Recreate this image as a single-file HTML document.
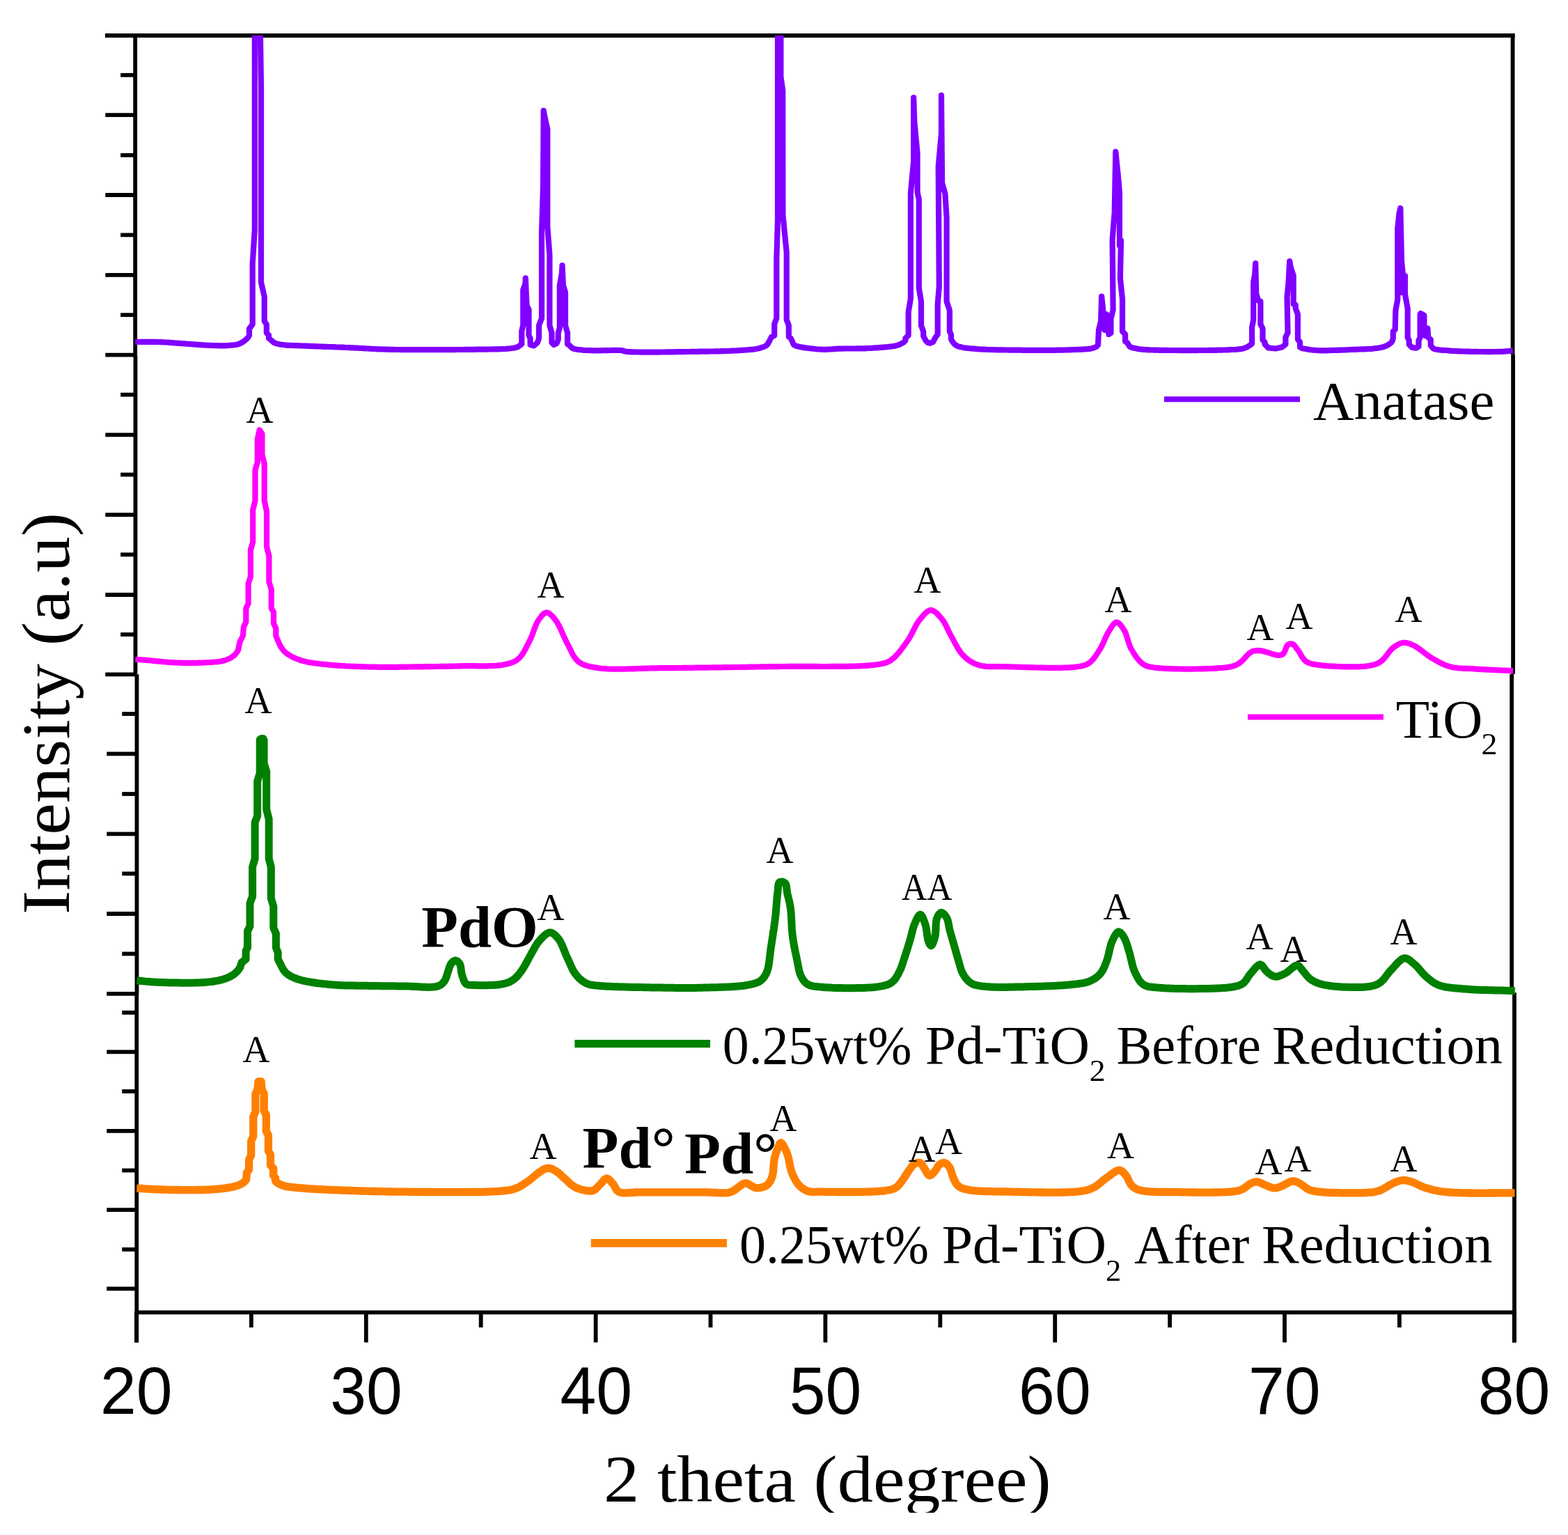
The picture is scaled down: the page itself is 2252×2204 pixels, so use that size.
<!DOCTYPE html>
<html><head><meta charset="utf-8"><title>XRD patterns</title>
<style>
html,body{margin:0;padding:0;background:#fff;}
body{width:2252px;height:2204px;overflow:hidden;}
svg{display:block;}
.s{font-family:"Liberation Serif","DejaVu Serif",serif;fill:#000;}
.a{font-family:"Liberation Serif","DejaVu Serif",serif;font-size:54px;fill:#000;}
.b{font-family:"Liberation Serif","DejaVu Serif",serif;font-weight:bold;font-size:85px;fill:#000;}
.t{font-family:"Liberation Sans","DejaVu Sans",sans-serif;font-size:96px;fill:#000;}
</style></head><body>
<svg width="2252" height="2204" viewBox="0 0 2252 2204">
<defs>
<clipPath id="c1"><rect x="150" y="51" width="2050" height="470"/></clipPath>
<clipPath id="cx"><rect x="0" y="0" width="2252" height="2172"/></clipPath>
</defs>
<rect width="2252" height="2204" fill="#fff"/>

<g stroke="#000" stroke-width="5.8" fill="none" stroke-linecap="butt">
<line x1="151" y1="51" x2="2175.6" y2="51"/>
<line x1="194.2" y1="48" x2="194.2" y2="509.5"/>
<line x1="194.5" y1="509.5" x2="194.5" y2="968.2"/>
<line x1="196.5" y1="968.2" x2="196.5" y2="1427"/>
<line x1="196.3" y1="1427" x2="196.3" y2="1927.5"/>
<line x1="2172.6" y1="48" x2="2172.6" y2="509.3"/>
<line x1="2173.1" y1="509.3" x2="2173.1" y2="967.7"/>
<line x1="2171.2" y1="967.7" x2="2171.2" y2="1425.2"/>
<line x1="2175" y1="1425.2" x2="2175" y2="1927.5"/>
<line x1="193.5" y1="1884.3" x2="2177.7" y2="1884.3"/>
<line x1="151.3" y1="165.2" x2="195" y2="165.2"/>
<line x1="151.3" y1="280" x2="195" y2="280"/>
<line x1="151.3" y1="394.8" x2="195" y2="394.8"/>
<line x1="151.3" y1="509.6" x2="195" y2="509.6"/>
<line x1="151.3" y1="624.4" x2="195" y2="624.4"/>
<line x1="151.3" y1="739.2" x2="195" y2="739.2"/>
<line x1="151.3" y1="854" x2="195" y2="854"/>
<line x1="151.3" y1="968.3" x2="195" y2="968.3"/>
<line x1="153.3" y1="1082.4" x2="195" y2="1082.4"/>
<line x1="153.3" y1="1197.4" x2="195" y2="1197.4"/>
<line x1="153.3" y1="1312" x2="195" y2="1312"/>
<line x1="153.3" y1="1426.8" x2="195" y2="1426.8"/>
<line x1="153.3" y1="1510.3" x2="195" y2="1510.3"/>
<line x1="153.3" y1="1623.8" x2="195" y2="1623.8"/>
<line x1="153.3" y1="1737.2" x2="195" y2="1737.2"/>
<line x1="153.3" y1="1850.3" x2="195" y2="1850.3"/>
<line x1="173.2" y1="107.8" x2="195" y2="107.8"/>
<line x1="173.2" y1="222.8" x2="195" y2="222.8"/>
<line x1="173.2" y1="337.4" x2="195" y2="337.4"/>
<line x1="173.2" y1="452.2" x2="195" y2="452.2"/>
<line x1="173.2" y1="566.7" x2="195" y2="566.7"/>
<line x1="173.2" y1="681.5" x2="195" y2="681.5"/>
<line x1="173.2" y1="796.3" x2="195" y2="796.3"/>
<line x1="173.2" y1="911" x2="195" y2="911"/>
<line x1="175.3" y1="1025" x2="195" y2="1025"/>
<line x1="175.3" y1="1140" x2="195" y2="1140"/>
<line x1="175.3" y1="1254.4" x2="195" y2="1254.4"/>
<line x1="175.3" y1="1369.5" x2="195" y2="1369.5"/>
<line x1="175.3" y1="1453.9" x2="195" y2="1453.9"/>
<line x1="175.3" y1="1567" x2="195" y2="1567"/>
<line x1="175.3" y1="1680.5" x2="195" y2="1680.5"/>
<line x1="175.3" y1="1794" x2="195" y2="1794"/>
<line x1="196.0" y1="1884" x2="196.0" y2="1927.5"/>
<line x1="525.8" y1="1884" x2="525.8" y2="1927.5"/>
<line x1="855.6" y1="1884" x2="855.6" y2="1927.5"/>
<line x1="1185.4" y1="1884" x2="1185.4" y2="1927.5"/>
<line x1="1515.2" y1="1884" x2="1515.2" y2="1927.5"/>
<line x1="1845.0" y1="1884" x2="1845.0" y2="1927.5"/>
<line x1="2174.8" y1="1884" x2="2174.8" y2="1927.5"/>
<line x1="360.9" y1="1884" x2="360.9" y2="1906"/>
<line x1="690.7" y1="1884" x2="690.7" y2="1906"/>
<line x1="1020.5" y1="1884" x2="1020.5" y2="1906"/>
<line x1="1350.3" y1="1884" x2="1350.3" y2="1906"/>
<line x1="1680.1" y1="1884" x2="1680.1" y2="1906"/>
<line x1="2009.9" y1="1884" x2="2009.9" y2="1906"/>
</g>
<g fill="none" stroke-linejoin="round" stroke-linecap="butt">
<polyline clip-path="url(#c1)" stroke="#8000ff" stroke-width="8.2" points="194.2,491.0 197.4,491.0 200.5,491.0 203.6,490.9 206.7,490.9 209.7,490.8 212.9,490.8 216.2,490.8 219.6,490.8 223.2,490.9 227.0,491.0 229.5,491.1 232.2,491.2 235.0,491.4 238.0,491.5 241.0,491.7 244.2,491.9 247.4,492.1 250.7,492.4 254.1,492.6 257.5,492.9 261.0,493.1 264.4,493.4 267.9,493.7 271.3,493.9 274.7,494.2 278.1,494.4 281.4,494.7 284.6,494.9 287.8,495.1 290.8,495.3 293.7,495.5 296.5,495.7 299.2,495.8 301.7,495.9 304.0,496.0 307.8,496.1 311.3,496.2 314.6,496.3 317.6,496.3 320.6,496.3 323.4,496.3 326.1,496.2 328.8,496.0 332.2,495.7 335.4,495.4 338.4,495.0 341.3,494.4 344.0,493.5 347.6,491.7 350.8,489.6 353.5,487.3 356.2,484.7 358.0,481.7 358.0,472.0 362.7,465.7 362.7,379.3 365.8,330.0 365.8,40.0 373.8,40.0 375.0,126.0 375.0,405.5 379.7,425.6 379.7,461.0 382.8,465.7 382.8,478.0 386.0,481.0 386.0,485.7 393.6,492.0 396.3,493.1 399.2,493.9 402.4,494.5 406.0,495.0 408.5,495.3 411.1,495.6 413.9,495.8 416.8,495.9 419.9,496.0 423.0,496.1 426.3,496.2 429.7,496.3 433.2,496.5 436.8,496.6 439.4,496.7 442.1,496.8 444.9,496.9 447.8,497.1 450.7,497.2 453.8,497.3 456.8,497.4 460.0,497.5 463.1,497.6 466.3,497.8 469.6,497.9 472.8,498.0 476.1,498.1 479.3,498.2 482.6,498.4 485.8,498.5 489.0,498.6 492.2,498.7 495.4,498.9 498.5,499.0 501.6,499.1 504.6,499.3 507.5,499.4 510.5,499.6 513.4,499.7 516.3,499.9 519.2,500.0 522.2,500.2 525.1,500.4 528.0,500.5 531.0,500.7 534.0,500.8 537.0,501.0 540.1,501.1 543.2,501.3 546.4,501.4 549.7,501.5 553.1,501.6 556.5,501.7 560.0,501.8 562.6,501.9 565.2,501.9 567.9,502.0 570.7,502.0 573.5,502.0 576.4,502.1 579.4,502.1 582.4,502.1 585.4,502.2 588.5,502.2 591.6,502.2 594.8,502.2 597.9,502.2 601.2,502.2 604.4,502.2 607.6,502.2 610.9,502.2 614.2,502.2 617.4,502.2 620.7,502.2 624.0,502.2 627.2,502.2 630.5,502.2 633.7,502.2 636.9,502.2 640.1,502.2 643.2,502.1 646.4,502.1 649.5,502.1 652.5,502.1 655.5,502.0 658.5,502.0 661.4,502.0 664.2,502.0 667.0,501.9 669.7,501.9 672.3,501.9 674.9,501.8 677.4,501.8 681.1,501.8 684.7,501.7 688.4,501.7 692.0,501.6 695.5,501.6 699.0,501.6 702.5,501.5 705.9,501.5 709.2,501.4 712.4,501.4 715.4,501.3 718.4,501.2 721.2,501.1 723.9,501.0 726.5,500.9 728.8,500.7 731.0,500.5 733.0,500.3 737.5,499.7 741.0,499.0 744.0,498.0 749.3,494.0 749.3,475.5 751.3,467.0 751.3,416.0 754.4,407.6 754.8,399.4 756.5,438.5 759.5,444.6 759.5,481.7 761.6,485.8 761.6,495.0 766.7,496.5 771.9,492.0 774.0,485.8 774.0,467.3 778.0,457.0 778.0,333.6 780.0,269.8 780.7,158.8 782.2,167.0 786.3,185.5 786.3,325.4 789.4,366.5 789.4,467.3 792.4,477.6 792.4,492.0 795.5,495.0 799.6,493.0 801.7,487.8 801.7,477.6 803.8,471.4 803.8,409.7 806.8,393.2 807.5,381.0 808.9,409.7 812.0,420.0 812.0,467.3 815.0,477.6 815.0,494.0 818.0,496.0 819.9,498.0 822.3,500.0 825.2,501.0 828.6,501.7 832.5,502.2 835.4,502.5 838.5,502.8 841.9,503.0 845.4,503.1 849.1,503.2 853.0,503.3 855.8,503.3 858.9,503.3 862.4,503.3 865.9,503.2 869.6,503.1 873.4,503.1 877.1,503.0 880.6,502.9 884.0,502.9 887.1,502.9 889.9,503.0 892.2,503.1 894.0,503.3 896.1,504.0 898.4,504.7 899.5,504.8 900.9,505.0 902.5,505.1 904.4,505.2 906.4,505.3 908.6,505.4 911.0,505.4 913.6,505.5 916.4,505.5 919.3,505.6 922.3,505.6 925.5,505.6 928.7,505.6 932.1,505.6 935.6,505.6 939.1,505.6 942.7,505.6 946.3,505.6 950.0,505.5 953.8,505.5 957.5,505.4 961.2,505.4 965.0,505.3 968.7,505.3 972.4,505.2 976.0,505.2 979.6,505.1 983.1,505.1 986.5,505.0 989.9,505.0 993.1,504.9 996.3,504.9 999.3,504.8 1002.1,504.8 1004.8,504.7 1007.4,504.7 1010.9,504.7 1014.4,504.6 1017.8,504.6 1021.1,504.5 1024.3,504.5 1027.5,504.4 1030.6,504.4 1033.6,504.3 1036.6,504.2 1039.5,504.1 1042.4,504.1 1045.2,504.0 1048.0,503.9 1050.8,503.7 1053.5,503.6 1056.2,503.5 1058.8,503.3 1062.3,503.1 1065.7,502.9 1069.1,502.7 1072.4,502.5 1075.6,502.2 1078.7,501.9 1081.7,501.6 1084.5,501.2 1087.1,500.8 1089.6,500.2 1093.3,499.2 1096.7,498.0 1099.6,496.7 1102.0,495.0 1106.0,487.8 1108.0,483.7 1112.2,481.7 1112.2,465.2 1115.3,457.0 1115.3,372.7 1117.0,315.0 1117.0,40.0 1121.4,40.0 1121.4,110.0 1124.2,130.0 1124.4,309.0 1129.7,362.4 1129.7,459.0 1132.8,467.3 1132.8,483.7 1135.9,485.8 1140.0,495.0 1142.9,496.6 1146.5,497.5 1149.0,498.1 1151.9,498.6 1155.0,499.1 1158.2,499.6 1161.5,500.0 1164.4,500.3 1167.4,500.7 1170.4,501.0 1173.6,501.3 1176.7,501.5 1179.9,501.7 1183.0,501.8 1186.0,501.8 1189.0,501.7 1191.9,501.5 1194.8,501.3 1197.9,501.1 1201.1,500.9 1204.6,500.7 1207.2,500.6 1210.0,500.6 1212.9,500.5 1215.9,500.5 1219.0,500.5 1222.1,500.5 1225.3,500.5 1228.6,500.5 1231.8,500.4 1235.1,500.4 1238.3,500.3 1241.4,500.3 1244.6,500.1 1247.6,500.0 1251.0,499.8 1254.5,499.6 1258.1,499.4 1261.7,499.2 1265.4,498.9 1268.9,498.6 1272.4,498.3 1275.6,498.0 1278.7,497.7 1281.6,497.3 1284.2,496.9 1286.4,496.4 1289.9,495.5 1292.6,494.4 1295.0,493.2 1298.2,491.2 1300.4,489.0 1300.4,485.7 1304.7,481.4 1304.7,448.0 1307.9,428.6 1307.9,277.9 1312.2,230.6 1312.2,140.1 1313.3,174.6 1317.6,219.8 1317.6,275.8 1319.8,286.5 1319.8,413.5 1323.0,432.9 1323.0,467.4 1326.2,476.0 1326.2,482.4 1329.5,488.9 1332.7,492.1 1335.9,492.8 1340.2,491.0 1343.4,484.6 1346.7,480.3 1346.7,437.2 1348.8,411.4 1347.7,239.2 1352.0,191.8 1352.0,136.9 1353.1,262.9 1357.4,277.9 1359.6,312.4 1359.6,432.9 1363.9,445.8 1363.9,476.0 1366.0,480.3 1366.0,486.8 1367.5,489.8 1369.8,492.9 1372.5,495.4 1375.1,496.9 1377.9,497.8 1381.1,498.6 1384.1,499.2 1387.3,499.7 1390.8,500.0 1394.4,500.4 1398.3,500.7 1400.9,500.9 1403.5,501.1 1406.1,501.3 1408.9,501.5 1411.7,501.6 1414.6,501.7 1417.8,501.9 1421.1,502.0 1424.7,502.1 1428.5,502.2 1430.6,502.3 1432.9,502.3 1435.3,502.3 1437.9,502.4 1440.6,502.4 1443.3,502.5 1446.2,502.5 1449.2,502.6 1452.3,502.6 1455.4,502.7 1458.6,502.7 1461.9,502.7 1465.3,502.7 1468.6,502.8 1472.1,502.8 1475.5,502.8 1479.0,502.8 1482.4,502.9 1485.9,502.9 1489.4,502.9 1492.9,502.9 1496.3,502.9 1499.8,502.9 1503.1,502.8 1506.5,502.8 1509.8,502.8 1513.0,502.8 1516.1,502.8 1519.2,502.7 1522.2,502.7 1525.1,502.6 1527.9,502.6 1530.6,502.5 1533.1,502.4 1535.6,502.4 1537.8,502.3 1540.0,502.2 1544.0,502.0 1547.8,501.9 1551.4,501.8 1554.9,501.6 1558.1,501.4 1561.2,501.2 1564.0,500.9 1566.5,500.6 1568.8,500.1 1570.8,499.5 1574.5,498.0 1577.0,495.4 1578.0,473.8 1581.1,461.5 1582.2,425.5 1584.2,445.0 1586.3,473.8 1589.0,451.2 1592.4,480.0 1595.5,478.0 1595.5,457.4 1598.6,445.0 1597.6,344.2 1600.7,305.2 1602.3,217.8 1605.8,251.7 1607.9,276.4 1607.9,352.5 1610.0,345.3 1608.9,399.8 1612.0,429.6 1612.0,475.9 1616.1,480.0 1616.1,490.3 1619.2,492.3 1622.3,497.5 1625.1,498.9 1628.7,499.8 1632.5,500.5 1635.6,501.1 1638.7,501.5 1642.3,501.9 1647.0,502.2 1648.7,502.3 1650.6,502.4 1652.7,502.5 1654.9,502.5 1657.4,502.6 1660.0,502.7 1662.7,502.7 1665.6,502.8 1668.7,502.8 1671.8,502.9 1675.1,502.9 1678.4,503.0 1681.8,503.0 1685.4,503.0 1688.9,503.0 1692.6,503.1 1696.2,503.1 1700.0,503.1 1703.7,503.1 1707.4,503.1 1711.2,503.1 1714.9,503.1 1718.6,503.1 1722.3,503.0 1725.9,503.0 1729.5,503.0 1733.0,503.0 1736.4,502.9 1739.8,502.9 1743.1,502.8 1746.2,502.8 1749.2,502.7 1752.1,502.7 1754.9,502.6 1757.5,502.5 1759.9,502.5 1762.2,502.4 1764.3,502.3 1766.2,502.2 1770.8,502.0 1774.7,501.8 1778.3,501.5 1781.4,501.2 1784.2,500.7 1786.8,500.1 1790.8,498.4 1794.0,496.4 1796.3,495.2 1798.1,493.3 1798.1,469.7 1800.2,459.4 1800.2,404.9 1802.2,394.6 1803.2,378.2 1804.3,422.4 1807.4,431.6 1810.4,432.7 1810.4,465.6 1813.5,471.7 1813.5,488.2 1816.6,491.3 1816.6,494.4 1821.7,499.5 1832.0,500.5 1841.3,498.5 1846.4,494.4 1846.4,484.1 1849.5,477.9 1848.5,426.5 1850.5,405.9 1852.2,375.1 1853.6,383.3 1857.7,395.7 1857.7,436.8 1860.8,437.8 1860.8,443.0 1863.9,451.2 1863.9,487.2 1867.0,491.3 1867.0,498.5 1870.4,500.2 1875.2,501.0 1878.6,501.6 1882.3,502.2 1886.1,502.7 1889.6,503.0 1892.9,503.2 1896.1,503.3 1900.0,503.3 1902.2,503.3 1904.7,503.3 1907.4,503.2 1910.3,503.1 1913.4,503.0 1916.7,502.9 1920.0,502.8 1923.4,502.7 1926.9,502.6 1930.3,502.5 1933.7,502.3 1937.0,502.2 1940.2,502.0 1943.2,501.9 1946.4,501.8 1949.6,501.6 1952.9,501.5 1956.1,501.4 1959.4,501.3 1962.6,501.1 1965.7,501.0 1968.7,500.8 1971.6,500.6 1974.3,500.3 1976.9,500.0 1979.2,499.7 1983.0,499.0 1986.4,498.2 1989.4,497.3 1992.1,496.1 1995.0,494.4 1997.5,492.4 1999.3,490.4 2000.8,486.0 2000.8,476.0 2003.7,473.1 2004.4,445.7 2007.3,429.9 2007.3,327.7 2009.4,307.5 2011.3,298.9 2013.0,375.2 2015.0,395.0 2014.0,420.0 2018.0,396.0 2018.0,422.7 2021.7,442.8 2021.7,484.6 2023.8,488.9 2023.8,494.7 2028.1,499.0 2033.9,499.7 2037.5,497.5 2037.5,488.9 2039.6,484.6 2039.6,451.5 2040.4,450.0 2045.4,452.9 2045.4,478.0 2047.0,482.0 2048.0,472.0 2050.4,471.6 2051.2,484.6 2054.8,487.5 2054.8,496.1 2058.4,500.4 2060.4,501.2 2063.1,501.8 2066.1,502.2 2069.5,502.6 2073.0,502.8 2076.6,503.0 2080.0,503.3 2083.0,503.6 2086.0,503.8 2089.0,504.0 2092.1,504.1 2095.2,504.3 2098.5,504.4 2101.8,504.5 2105.2,504.6 2108.8,504.7 2111.6,504.8 2114.6,504.8 2117.8,504.9 2121.1,504.9 2124.6,505.0 2128.0,505.0 2131.6,505.0 2135.1,505.1 2138.5,505.1 2142.0,505.1 2145.3,505.0 2148.4,505.0 2151.4,504.9 2154.2,504.9 2156.8,504.8 2159.1,504.7 2163.1,504.4 2166.4,504.1 2169.5,503.7 2172.7,503.3"/>
<polyline stroke="#ff00ff" stroke-width="8.2" points="194.5,946.5 197.6,946.8 200.7,947.0 203.9,947.3 207.0,947.6 210.2,947.9 213.3,948.2 216.5,948.5 219.7,948.8 222.8,949.1 226.0,949.4 229.1,949.7 232.3,950.0 235.4,950.3 238.4,950.5 241.5,950.8 244.5,951.0 247.5,951.2 250.4,951.3 253.3,951.5 256.2,951.6 259.6,951.7 263.0,951.8 266.4,951.8 269.8,951.9 273.1,951.9 276.4,951.9 279.7,951.8 282.8,951.8 286.0,951.7 289.0,951.6 292.0,951.5 294.9,951.3 297.6,951.2 300.3,951.0 303.9,950.8 307.4,950.5 310.6,950.3 313.8,950.0 316.8,949.6 319.7,949.0 322.4,948.3 326.1,947.0 329.6,945.5 332.8,943.7 335.6,941.7 338.3,939.1 340.5,936.1 342.2,932.9 344.4,921.8 348.9,913.0 350.0,899.8 353.3,893.2 353.3,873.3 356.6,866.7 356.6,838.0 359.9,828.0 359.9,789.5 363.2,778.4 363.2,732.1 366.5,718.9 366.5,674.7 369.8,663.7 369.8,630.6 372.7,617.4 376.4,622.9 376.4,652.7 379.7,665.9 379.7,718.9 383.0,734.3 383.0,785.0 386.4,798.3 386.4,835.8 389.7,845.7 389.7,873.3 393.0,878.8 393.0,895.4 396.3,902.0 396.3,913.0 401.8,926.2 403.6,929.2 405.6,932.0 407.8,934.7 410.6,937.3 412.7,938.9 415.1,940.5 417.6,942.0 420.3,943.4 423.2,944.7 426.3,946.0 429.4,947.2 432.7,948.3 435.3,949.1 438.1,949.8 440.9,950.4 443.8,951.0 446.9,951.5 450.0,952.0 453.1,952.4 456.4,952.8 459.7,953.2 463.0,953.6 466.4,953.9 469.9,954.2 473.3,954.6 476.8,954.9 479.5,955.2 482.3,955.4 485.2,955.6 488.2,955.8 491.1,956.0 494.2,956.2 497.2,956.4 500.3,956.5 503.5,956.7 506.6,956.8 509.8,956.9 512.9,957.0 516.0,957.1 519.2,957.2 522.3,957.3 525.4,957.4 528.4,957.5 531.5,957.6 534.4,957.6 537.4,957.7 540.2,957.7 543.0,957.8 546.3,957.9 549.6,957.9 552.8,957.9 555.8,957.9 558.9,957.9 561.9,957.9 564.9,957.9 567.9,957.8 570.9,957.8 573.9,957.7 577.0,957.7 580.1,957.6 583.3,957.6 586.6,957.5 590.0,957.5 592.7,957.5 595.5,957.4 598.3,957.4 601.2,957.4 604.1,957.3 607.1,957.3 610.1,957.2 613.2,957.2 616.2,957.2 619.3,957.1 622.4,957.1 625.5,957.0 628.7,957.0 631.8,956.9 634.9,956.9 638.1,956.8 641.2,956.8 644.3,956.7 647.3,956.6 650.4,956.6 653.4,956.5 656.4,956.4 659.4,956.4 662.3,956.3 665.5,956.2 668.8,956.2 672.1,956.2 675.5,956.2 678.9,956.2 682.3,956.2 685.6,956.3 689.0,956.3 692.3,956.3 695.6,956.3 698.8,956.3 702.0,956.2 705.1,956.1 708.2,956.0 711.1,955.9 713.9,955.7 716.7,955.4 719.2,955.1 721.7,954.7 724.0,954.3 727.6,953.5 730.9,952.7 734.0,951.8 736.8,950.7 739.4,949.5 742.0,947.9 744.5,946.0 746.5,944.1 748.4,941.9 750.2,939.4 751.9,936.7 753.6,933.9 755.1,931.0 756.6,928.0 758.1,925.1 759.6,922.1 761.0,919.3 762.4,916.4 763.7,913.4 764.9,910.3 766.0,907.2 767.1,904.1 768.3,901.0 769.4,898.1 770.6,895.3 771.9,892.8 773.3,890.5 775.5,887.4 777.7,884.5 780.1,881.9 782.5,880.1 784.9,879.4 787.5,880.0 790.1,881.7 792.8,884.3 795.5,887.3 798.0,890.5 799.5,892.6 800.9,894.9 802.3,897.4 803.7,900.2 805.0,903.0 806.4,906.0 807.7,909.0 809.0,912.0 810.4,915.0 811.7,917.9 813.1,920.7 814.5,923.4 816.0,926.3 817.5,929.2 818.9,932.2 820.4,935.2 821.8,938.1 823.3,940.9 825.0,943.5 826.8,945.9 828.7,948.2 830.9,950.1 833.2,951.7 835.6,953.1 838.1,954.3 840.7,955.3 843.4,956.1 846.3,956.9 849.4,957.5 852.6,958.1 856.1,958.6 859.7,959.2 861.9,959.5 864.2,959.8 866.5,960.0 869.0,960.2 871.5,960.4 874.1,960.5 876.7,960.6 879.4,960.7 882.2,960.7 885.1,960.7 888.0,960.7 890.9,960.7 893.9,960.7 897.0,960.6 900.1,960.5 903.2,960.4 906.4,960.4 909.6,960.3 912.8,960.1 916.1,960.0 919.5,959.9 922.8,959.8 926.2,959.7 929.6,959.6 933.0,959.5 936.4,959.4 939.8,959.3 943.3,959.3 946.7,959.2 950.2,959.2 952.8,959.2 955.5,959.2 958.1,959.1 960.9,959.1 963.6,959.1 966.4,959.1 969.2,959.1 972.1,959.0 974.9,959.0 977.8,959.0 980.8,958.9 983.7,958.9 986.7,958.9 989.7,958.9 992.7,958.8 995.7,958.8 998.8,958.7 1001.9,958.7 1004.9,958.7 1008.1,958.6 1011.2,958.6 1014.3,958.6 1017.5,958.5 1020.6,958.5 1023.8,958.4 1027.0,958.4 1030.1,958.4 1033.3,958.3 1036.5,958.3 1039.7,958.2 1042.9,958.2 1046.1,958.1 1049.3,958.1 1052.5,958.0 1055.7,958.0 1058.9,958.0 1062.1,957.9 1065.3,957.9 1068.5,957.8 1071.7,957.8 1074.9,957.7 1078.0,957.7 1081.2,957.6 1084.3,957.6 1087.4,957.5 1090.6,957.5 1093.6,957.4 1096.7,957.4 1099.8,957.3 1102.8,957.3 1105.9,957.2 1108.9,957.2 1111.8,957.1 1114.8,957.1 1118.0,957.1 1121.2,957.0 1124.5,957.0 1127.8,957.0 1131.2,956.9 1134.6,956.9 1138.0,956.9 1141.4,956.9 1144.9,956.9 1148.4,956.9 1151.9,956.9 1155.4,956.9 1158.9,956.9 1162.4,956.9 1166.0,956.9 1169.5,956.9 1173.0,956.9 1176.5,957.0 1180.0,957.0 1183.5,957.0 1187.0,957.0 1190.4,957.0 1193.8,956.9 1197.2,956.9 1200.6,956.9 1203.9,956.9 1207.1,956.9 1210.4,956.8 1213.6,956.8 1216.7,956.8 1219.8,956.7 1222.8,956.6 1225.7,956.6 1228.6,956.5 1231.4,956.4 1234.2,956.3 1236.9,956.2 1239.5,956.0 1242.0,955.9 1244.4,955.8 1246.7,955.6 1249.0,955.4 1251.1,955.2 1253.2,955.0 1255.1,954.8 1257.0,954.6 1258.7,954.3 1262.7,953.7 1266.1,953.1 1269.0,952.5 1271.6,951.8 1274.1,950.9 1276.6,949.7 1279.3,948.1 1281.5,946.5 1283.7,944.7 1285.9,942.6 1288.0,940.3 1290.2,937.9 1292.3,935.3 1294.4,932.6 1296.4,929.9 1298.4,927.2 1300.3,924.5 1302.2,921.8 1304.0,919.3 1305.7,916.7 1307.3,914.0 1308.8,911.2 1310.3,908.4 1311.6,905.6 1313.0,902.9 1314.4,900.1 1315.8,897.5 1317.2,895.0 1318.8,892.7 1320.4,890.5 1322.6,887.8 1324.9,885.0 1327.3,882.3 1329.7,879.9 1332.1,877.9 1334.5,876.6 1336.9,876.1 1339.6,876.6 1342.4,878.2 1345.2,880.5 1348.0,883.2 1350.6,886.2 1353.0,889.1 1354.7,891.3 1356.2,893.7 1357.6,896.3 1359.0,898.9 1360.3,901.7 1361.6,904.5 1363.0,907.3 1364.4,910.1 1365.9,912.9 1367.5,915.7 1369.0,918.6 1370.6,921.6 1372.2,924.6 1373.9,927.6 1375.6,930.6 1377.3,933.4 1379.2,936.1 1381.1,938.6 1383.2,940.9 1385.5,943.2 1387.9,945.3 1390.4,947.3 1393.0,949.1 1395.7,950.7 1398.5,952.2 1401.6,953.5 1404.8,954.7 1407.3,955.4 1409.9,956.0 1412.6,956.4 1415.4,956.8 1418.2,957.0 1421.2,957.1 1424.2,957.2 1427.3,957.2 1430.6,957.2 1433.9,957.2 1437.3,957.2 1440.7,957.2 1444.3,957.2 1448.0,957.3 1450.5,957.4 1453.1,957.5 1455.8,957.5 1458.7,957.6 1461.6,957.7 1464.7,957.8 1467.8,957.9 1471.1,958.0 1474.4,958.1 1477.7,958.2 1481.1,958.3 1484.6,958.4 1488.0,958.5 1491.5,958.6 1495.0,958.7 1498.5,958.7 1502.0,958.8 1505.4,958.8 1508.9,958.8 1512.2,958.8 1515.5,958.8 1518.8,958.8 1522.0,958.8 1525.1,958.8 1528.1,958.7 1530.9,958.6 1533.7,958.5 1536.4,958.3 1538.9,958.2 1541.2,958.0 1543.4,957.8 1545.4,957.6 1547.3,957.3 1551.1,956.7 1554.3,956.1 1557.1,955.4 1559.7,954.5 1562.1,953.3 1564.6,951.7 1566.8,950.0 1568.8,947.9 1570.8,945.6 1572.7,943.1 1574.5,940.5 1576.3,937.8 1578.0,935.0 1579.7,932.3 1581.3,929.6 1582.8,926.7 1584.2,923.7 1585.6,920.6 1587.0,917.5 1588.3,914.5 1589.7,911.6 1591.1,908.9 1592.6,906.4 1594.7,903.0 1596.8,899.6 1599.0,896.5 1601.2,894.3 1603.4,893.4 1605.6,894.0 1607.8,895.7 1610.0,898.2 1612.2,901.2 1614.2,904.2 1615.5,906.4 1616.6,908.9 1617.6,911.7 1618.5,914.6 1619.5,917.7 1620.4,920.7 1621.4,923.8 1622.4,926.8 1623.6,929.7 1625.0,932.3 1626.6,935.0 1628.2,937.8 1630.0,940.5 1631.8,943.2 1633.7,945.7 1635.7,948.1 1637.8,950.3 1640.0,952.3 1642.3,953.9 1644.9,955.4 1647.6,956.5 1650.3,957.3 1653.2,957.8 1656.3,958.3 1659.9,958.7 1663.9,959.1 1665.9,959.3 1668.1,959.5 1670.5,959.7 1673.1,959.8 1675.9,960.0 1678.8,960.1 1681.9,960.2 1685.1,960.3 1688.4,960.4 1691.8,960.5 1695.2,960.5 1698.8,960.6 1702.4,960.6 1706.1,960.6 1709.7,960.6 1713.4,960.6 1717.2,960.5 1720.8,960.5 1724.5,960.4 1728.2,960.3 1731.8,960.2 1735.3,960.1 1738.7,960.0 1742.1,959.8 1745.3,959.6 1748.5,959.4 1751.5,959.2 1754.3,959.0 1757.0,958.8 1759.5,958.5 1761.9,958.2 1764.0,957.9 1765.9,957.6 1767.6,957.3 1771.8,956.2 1774.9,955.0 1777.6,953.6 1780.5,951.7 1782.9,949.8 1785.4,947.4 1787.9,944.7 1790.3,941.9 1792.8,939.4 1795.3,937.2 1797.8,935.7 1800.9,934.6 1804.0,934.2 1807.2,934.2 1810.7,934.4 1813.6,934.8 1817.0,935.7 1820.5,936.7 1824.2,937.9 1827.8,939.1 1831.1,940.0 1834.1,940.7 1836.6,940.9 1840.2,940.4 1843.1,938.8 1844.9,936.1 1846.3,932.2 1847.8,928.4 1849.6,925.8 1852.8,924.3 1856.1,924.5 1858.3,926.0 1860.4,928.4 1862.5,931.4 1864.7,934.4 1866.4,936.8 1868.0,939.6 1869.6,942.4 1871.4,945.1 1873.3,947.6 1875.5,949.6 1877.9,951.0 1880.3,952.1 1882.9,952.9 1885.9,953.6 1889.1,954.1 1892.8,954.7 1894.9,955.0 1897.3,955.3 1899.9,955.6 1902.7,955.8 1905.6,956.1 1908.7,956.3 1912.0,956.5 1915.4,956.7 1918.8,956.9 1922.4,957.0 1925.9,957.2 1929.5,957.3 1933.1,957.3 1936.7,957.4 1940.2,957.4 1943.7,957.4 1947.0,957.4 1950.3,957.3 1953.4,957.2 1956.4,957.0 1959.2,956.8 1961.7,956.6 1964.1,956.3 1966.2,956.0 1969.9,955.3 1973.0,954.6 1975.8,953.7 1978.4,952.6 1980.9,951.3 1983.5,949.6 1985.8,947.7 1988.0,945.4 1990.2,942.7 1992.3,939.9 1994.3,937.1 1996.4,934.5 1998.6,932.1 2000.8,930.1 2003.7,928.0 2006.7,926.1 2009.8,924.5 2012.8,923.4 2015.9,922.8 2018.8,922.8 2021.8,923.4 2024.7,924.3 2027.8,925.6 2031.0,927.1 2033.4,928.4 2035.8,929.9 2038.3,931.7 2040.9,933.6 2043.5,935.6 2046.2,937.7 2048.9,939.7 2051.5,941.7 2054.2,943.5 2056.9,945.2 2059.7,946.8 2062.5,948.4 2065.2,949.9 2068.0,951.4 2070.9,952.8 2073.7,954.1 2076.7,955.3 2079.7,956.4 2082.8,957.3 2085.7,958.0 2088.6,958.5 2091.6,958.9 2094.6,959.3 2097.6,959.5 2100.8,959.6 2103.9,959.8 2107.2,959.9 2110.5,960.0 2113.9,960.2 2117.4,960.4 2120.2,960.6 2123.0,960.8 2125.9,960.9 2128.9,961.1 2131.9,961.3 2135.0,961.4 2138.1,961.6 2141.2,961.7 2144.4,961.9 2147.6,962.0 2150.8,962.2 2154.0,962.3 2157.3,962.5 2160.5,962.6 2163.7,962.7 2166.8,962.9 2170.0,963.0 2173.1,963.2"/>
<polyline stroke="#008000" stroke-width="11" points="196.5,1407.9 199.7,1408.2 202.7,1408.5 205.7,1408.8 208.7,1409.1 211.7,1409.4 214.9,1409.6 218.2,1409.9 221.7,1410.1 225.5,1410.3 228.0,1410.4 230.7,1410.5 233.5,1410.6 236.4,1410.7 239.5,1410.8 242.7,1410.9 245.9,1411.0 249.2,1411.0 252.6,1411.1 256.0,1411.1 259.5,1411.2 262.9,1411.2 266.3,1411.2 269.7,1411.2 273.1,1411.2 276.4,1411.2 279.6,1411.1 282.8,1411.0 285.8,1410.9 288.7,1410.8 291.4,1410.7 294.0,1410.5 296.4,1410.3 300.3,1409.9 304.0,1409.5 307.5,1409.0 310.8,1408.4 313.9,1407.8 316.8,1407.1 319.7,1406.4 322.4,1405.5 325.7,1404.3 328.7,1403.1 331.5,1401.6 334.2,1400.1 336.6,1398.4 339.1,1396.2 341.3,1393.9 343.3,1391.4 344.8,1389.0 346.0,1385.3 347.2,1381.9 353.1,1377.2 353.1,1365.3 355.5,1360.6 355.5,1337.0 359.0,1329.9 359.0,1296.8 362.6,1287.3 362.6,1244.8 366.1,1233.0 366.1,1181.0 369.7,1171.5 369.7,1121.8 373.2,1110.0 373.2,1062.0 375.5,1060.4 377.9,1060.4 379.1,1062.7 379.1,1095.8 382.7,1107.7 382.7,1162.0 386.2,1176.2 386.2,1233.0 389.3,1244.8 389.3,1289.7 392.8,1301.5 392.8,1332.2 396.4,1340.5 396.4,1360.6 399.2,1367.7 399.2,1377.2 402.8,1384.3 404.2,1387.1 405.8,1390.2 407.6,1393.3 409.9,1396.1 412.0,1398.0 414.4,1399.7 417.0,1401.3 419.8,1402.8 423.0,1404.2 426.4,1405.5 428.8,1406.3 431.4,1407.0 434.1,1407.8 437.0,1408.4 440.1,1409.1 443.2,1409.6 446.5,1410.2 449.8,1410.7 453.2,1411.2 456.6,1411.7 460.1,1412.1 463.5,1412.5 467.0,1412.9 470.4,1413.3 473.7,1413.6 476.7,1413.9 479.7,1414.1 482.8,1414.3 485.9,1414.5 489.1,1414.7 492.2,1414.8 495.4,1414.9 498.5,1415.0 501.7,1415.0 504.9,1415.1 508.1,1415.1 511.3,1415.2 514.5,1415.2 517.6,1415.2 520.7,1415.3 523.9,1415.3 526.9,1415.3 530.0,1415.4 533.2,1415.5 536.4,1415.5 539.6,1415.6 542.7,1415.6 545.9,1415.7 549.0,1415.7 552.1,1415.7 555.2,1415.8 558.3,1415.8 561.4,1415.8 564.5,1415.8 567.6,1415.8 570.7,1415.9 573.8,1415.9 576.9,1415.9 580.0,1415.9 583.2,1415.9 586.5,1416.1 589.9,1416.2 593.3,1416.4 596.8,1416.6 600.4,1416.8 603.8,1417.0 607.3,1417.2 610.6,1417.3 613.9,1417.4 617.0,1417.4 619.9,1417.3 622.7,1417.1 625.2,1416.8 627.4,1416.4 629.4,1415.8 633.4,1413.8 636.2,1411.3 638.6,1408.3 640.1,1405.5 641.2,1402.4 642.2,1399.1 643.2,1395.9 644.3,1392.7 645.3,1389.3 646.5,1386.2 647.9,1383.6 650.8,1380.5 654.0,1379.0 657.3,1380.4 660.2,1383.6 661.2,1386.0 661.8,1389.1 662.2,1392.4 662.6,1395.8 663.3,1399.0 664.2,1402.1 665.3,1405.3 666.4,1408.4 667.8,1411.0 669.5,1412.9 672.0,1414.1 675.0,1414.3 678.7,1414.4 680.9,1414.5 683.4,1414.6 686.3,1414.7 689.4,1414.7 692.7,1414.8 696.2,1414.8 699.7,1414.7 703.3,1414.6 706.8,1414.5 710.3,1414.3 713.6,1414.0 716.6,1413.7 719.4,1413.3 721.9,1412.9 725.6,1412.0 728.9,1411.0 731.8,1409.9 734.6,1408.4 737.3,1406.7 739.6,1404.9 741.8,1402.8 743.9,1400.5 745.8,1398.1 747.8,1395.5 749.7,1392.9 751.3,1390.5 752.9,1387.9 754.5,1385.2 756.0,1382.4 757.5,1379.6 759.0,1376.8 760.5,1374.0 762.0,1371.3 763.7,1368.3 765.4,1365.3 767.0,1362.3 768.7,1359.3 770.4,1356.4 772.3,1353.7 774.3,1351.2 776.7,1348.5 779.2,1345.8 781.9,1343.2 784.6,1341.0 787.3,1339.5 789.8,1338.9 792.4,1339.4 794.9,1340.8 797.4,1342.9 799.8,1345.4 802.1,1348.1 803.7,1350.3 805.2,1352.9 806.6,1355.7 807.9,1358.7 809.2,1361.9 810.5,1365.1 811.7,1368.2 813.0,1371.3 814.4,1374.3 815.7,1377.1 817.0,1380.0 818.3,1383.0 819.6,1385.9 820.9,1388.8 822.2,1391.6 823.6,1394.2 825.2,1396.7 826.8,1399.0 829.1,1401.7 831.5,1404.3 834.1,1406.6 836.7,1408.7 839.5,1410.5 842.2,1412.0 845.0,1413.1 847.6,1413.9 850.4,1414.3 853.6,1414.7 857.6,1415.1 859.5,1415.3 861.5,1415.5 863.8,1415.7 866.2,1415.8 868.7,1416.0 871.4,1416.2 874.2,1416.3 877.2,1416.4 880.2,1416.6 883.4,1416.7 886.6,1416.8 889.9,1416.9 893.3,1417.0 896.7,1417.1 900.2,1417.2 903.7,1417.3 907.2,1417.4 910.8,1417.4 914.3,1417.5 917.8,1417.6 921.3,1417.6 924.8,1417.7 928.2,1417.8 931.6,1417.8 934.9,1417.9 938.2,1417.9 941.3,1418.0 944.4,1418.0 947.4,1418.1 950.2,1418.1 953.6,1418.2 956.9,1418.2 960.1,1418.3 963.3,1418.3 966.5,1418.3 969.6,1418.4 972.7,1418.4 975.8,1418.4 978.8,1418.5 981.8,1418.5 984.8,1418.5 987.8,1418.5 990.8,1418.5 993.8,1418.4 996.8,1418.4 999.8,1418.4 1002.8,1418.3 1005.8,1418.3 1008.8,1418.2 1011.9,1418.1 1015.0,1418.0 1018.2,1417.9 1021.5,1417.8 1024.8,1417.7 1028.2,1417.7 1031.6,1417.6 1035.0,1417.4 1038.4,1417.3 1041.7,1417.2 1045.1,1417.1 1048.3,1416.9 1051.6,1416.7 1054.7,1416.5 1057.8,1416.3 1060.8,1416.1 1063.6,1415.8 1066.3,1415.5 1068.9,1415.2 1071.3,1414.8 1073.6,1414.4 1077.5,1413.6 1080.9,1412.9 1084.1,1412.0 1087.0,1411.1 1089.7,1409.8 1092.1,1408.3 1094.4,1406.4 1096.5,1404.2 1098.2,1401.8 1099.8,1399.1 1101.3,1395.9 1102.2,1393.6 1102.9,1391.0 1103.6,1388.2 1104.1,1385.3 1104.6,1382.2 1105.0,1378.9 1105.4,1375.6 1105.8,1372.2 1106.2,1368.9 1106.6,1365.5 1107.0,1362.2 1107.5,1358.9 1108.0,1355.9 1108.4,1352.9 1108.9,1349.8 1109.4,1346.7 1109.9,1343.5 1110.3,1340.4 1110.8,1337.2 1111.3,1334.0 1111.7,1330.9 1112.2,1327.8 1112.6,1324.7 1113.0,1321.6 1113.3,1318.6 1113.7,1315.7 1114.1,1312.4 1114.4,1309.1 1114.7,1305.8 1114.9,1302.5 1115.2,1299.3 1115.4,1296.1 1115.7,1293.0 1115.9,1290.0 1116.2,1287.1 1116.5,1284.4 1116.8,1281.8 1117.2,1278.0 1117.5,1274.2 1117.9,1270.8 1118.6,1268.1 1119.8,1266.4 1123.7,1266.0 1127.6,1267.9 1128.9,1270.3 1129.6,1273.8 1130.0,1277.8 1130.6,1281.8 1131.2,1284.6 1131.9,1287.4 1132.7,1290.4 1133.4,1293.4 1134.1,1296.6 1134.7,1299.9 1135.3,1303.4 1135.6,1306.1 1135.9,1308.9 1136.2,1311.9 1136.4,1314.9 1136.6,1318.1 1136.7,1321.3 1136.9,1324.5 1137.0,1327.8 1137.2,1331.0 1137.4,1334.2 1137.7,1337.4 1138.0,1340.5 1138.3,1343.5 1138.7,1346.7 1139.2,1349.9 1139.7,1353.1 1140.3,1356.3 1140.8,1359.4 1141.4,1362.5 1142.0,1365.6 1142.6,1368.6 1143.3,1371.6 1143.9,1374.5 1144.5,1377.4 1145.2,1380.8 1145.8,1384.1 1146.5,1387.5 1147.1,1390.7 1147.8,1393.8 1148.6,1396.8 1149.6,1399.6 1150.7,1402.1 1152.6,1405.5 1154.6,1408.5 1157.0,1411.1 1159.9,1413.2 1162.5,1414.5 1165.3,1415.4 1168.5,1416.1 1171.9,1416.5 1175.7,1416.9 1180.0,1417.3 1182.1,1417.5 1184.5,1417.7 1187.0,1417.8 1189.8,1418.0 1192.7,1418.1 1195.7,1418.3 1198.9,1418.4 1202.2,1418.5 1205.5,1418.5 1209.0,1418.6 1212.5,1418.7 1216.1,1418.7 1219.7,1418.7 1223.3,1418.7 1226.8,1418.7 1230.4,1418.6 1233.9,1418.6 1237.3,1418.5 1240.7,1418.4 1244.0,1418.2 1247.1,1418.1 1250.1,1417.9 1253.0,1417.7 1255.7,1417.5 1258.1,1417.2 1260.4,1416.9 1262.5,1416.6 1266.5,1415.9 1270.0,1415.2 1273.1,1414.3 1275.9,1413.3 1278.5,1412.0 1281.0,1410.4 1283.3,1408.4 1285.3,1406.1 1287.1,1403.5 1288.7,1400.8 1290.3,1397.9 1291.8,1395.0 1293.1,1392.2 1294.4,1389.2 1295.5,1386.2 1296.5,1383.0 1297.5,1379.8 1298.6,1376.6 1299.6,1373.4 1300.6,1370.4 1301.6,1367.3 1302.6,1364.2 1303.6,1361.1 1304.5,1357.9 1305.5,1354.8 1306.4,1351.7 1307.3,1348.7 1308.2,1345.5 1309.0,1342.3 1309.8,1339.0 1310.6,1335.9 1311.4,1332.8 1312.3,1329.9 1313.4,1327.1 1314.9,1323.6 1316.6,1319.9 1318.4,1316.5 1320.1,1314.1 1321.8,1313.2 1323.3,1314.2 1324.9,1316.6 1326.3,1319.9 1327.7,1323.6 1328.9,1327.1 1329.7,1329.9 1330.3,1333.1 1330.9,1336.5 1331.3,1340.0 1331.8,1343.4 1332.3,1346.6 1332.8,1349.5 1333.5,1351.8 1335.3,1356.0 1337.2,1358.0 1338.6,1356.7 1340.1,1353.7 1341.5,1349.7 1342.7,1345.6 1343.2,1342.9 1343.6,1339.9 1343.8,1336.5 1344.0,1333.1 1344.1,1329.6 1344.3,1326.2 1344.6,1323.0 1345.1,1320.2 1345.8,1317.9 1347.6,1314.3 1349.7,1311.4 1352.0,1310.2 1354.6,1311.4 1357.4,1314.3 1359.7,1317.9 1360.8,1320.4 1361.7,1323.3 1362.3,1326.5 1362.9,1329.8 1363.5,1333.1 1364.3,1336.4 1365.1,1339.4 1366.0,1342.5 1366.9,1345.5 1367.8,1348.7 1368.7,1351.8 1369.6,1354.9 1370.5,1358.0 1371.4,1361.1 1372.3,1364.2 1373.1,1367.4 1374.0,1370.5 1374.9,1373.6 1375.8,1376.6 1376.7,1379.6 1377.6,1382.8 1378.5,1386.0 1379.4,1389.2 1380.3,1392.3 1381.5,1395.3 1382.9,1398.1 1384.5,1400.8 1386.3,1403.4 1388.2,1405.9 1390.3,1408.2 1392.7,1410.3 1395.2,1412.0 1397.7,1413.3 1400.4,1414.2 1403.3,1414.9 1406.3,1415.4 1409.5,1415.9 1413.0,1416.2 1416.8,1416.6 1419.2,1416.8 1421.7,1417.0 1424.3,1417.2 1427.1,1417.3 1430.0,1417.3 1433.0,1417.4 1436.0,1417.4 1439.2,1417.4 1442.4,1417.4 1445.7,1417.4 1449.0,1417.3 1452.3,1417.3 1455.6,1417.2 1459.0,1417.1 1462.3,1417.0 1465.7,1417.0 1468.9,1416.9 1472.2,1416.8 1475.4,1416.7 1478.5,1416.6 1481.6,1416.5 1484.8,1416.4 1488.0,1416.4 1491.3,1416.3 1494.6,1416.2 1497.9,1416.1 1501.2,1415.9 1504.5,1415.8 1507.8,1415.7 1511.1,1415.6 1514.3,1415.4 1517.5,1415.3 1520.7,1415.1 1523.8,1414.9 1526.7,1414.7 1529.7,1414.5 1532.5,1414.3 1535.2,1414.0 1537.7,1413.8 1540.2,1413.5 1543.9,1413.1 1547.4,1412.7 1550.6,1412.3 1553.7,1411.9 1556.7,1411.3 1559.5,1410.7 1562.2,1409.9 1564.9,1408.9 1567.9,1407.5 1570.7,1406.0 1573.4,1404.3 1575.9,1402.4 1578.2,1400.4 1580.3,1398.1 1582.3,1395.5 1584.0,1392.6 1585.5,1389.6 1586.9,1386.4 1588.2,1383.0 1589.5,1379.6 1590.5,1376.7 1591.3,1373.6 1592.1,1370.4 1592.9,1367.1 1593.6,1363.8 1594.4,1360.5 1595.2,1357.4 1596.1,1354.4 1597.2,1351.8 1598.9,1348.2 1600.7,1344.5 1602.6,1341.3 1604.6,1338.9 1606.5,1337.9 1609.1,1339.0 1611.8,1342.0 1614.2,1345.6 1615.5,1348.0 1616.7,1350.8 1617.8,1353.8 1618.9,1357.1 1619.9,1360.4 1620.9,1363.8 1621.9,1367.2 1622.8,1370.2 1623.5,1373.3 1624.3,1376.5 1625.0,1379.7 1625.8,1382.9 1626.6,1386.1 1627.4,1389.2 1628.5,1392.2 1629.6,1395.0 1631.0,1398.1 1632.5,1401.1 1634.1,1404.0 1635.8,1406.8 1637.6,1409.4 1639.7,1411.6 1642.0,1413.5 1644.5,1414.9 1647.0,1415.9 1649.7,1416.6 1652.7,1417.1 1655.9,1417.4 1659.6,1417.7 1663.6,1418.1 1665.6,1418.3 1667.8,1418.5 1670.1,1418.6 1672.6,1418.8 1675.3,1418.9 1678.2,1419.0 1681.1,1419.2 1684.2,1419.3 1687.4,1419.4 1690.7,1419.5 1694.1,1419.5 1697.6,1419.6 1701.1,1419.6 1704.7,1419.7 1708.3,1419.7 1711.9,1419.7 1715.6,1419.7 1719.2,1419.7 1722.8,1419.6 1726.5,1419.6 1730.0,1419.5 1733.6,1419.5 1737.0,1419.4 1740.4,1419.3 1743.7,1419.2 1746.9,1419.0 1750.0,1418.9 1753.0,1418.7 1755.8,1418.6 1758.5,1418.4 1761.1,1418.2 1763.4,1418.0 1765.6,1417.7 1767.6,1417.5 1769.4,1417.2 1773.6,1416.5 1777.0,1415.7 1779.9,1414.8 1782.6,1413.6 1785.2,1412.0 1787.4,1410.1 1789.3,1407.7 1791.1,1405.1 1792.8,1402.4 1794.6,1399.7 1796.6,1397.3 1798.8,1394.8 1801.1,1392.0 1803.4,1389.3 1805.8,1387.0 1808.0,1385.3 1810.1,1384.8 1812.5,1386.1 1814.6,1388.9 1816.8,1392.2 1819.2,1395.0 1822.0,1397.3 1825.1,1399.6 1828.3,1401.4 1831.6,1402.3 1834.4,1402.2 1837.3,1401.4 1840.3,1400.2 1843.3,1398.8 1846.3,1397.3 1849.2,1395.5 1852.2,1393.0 1855.2,1390.4 1858.2,1388.1 1860.9,1386.5 1863.3,1386.0 1866.2,1387.5 1868.6,1390.6 1871.2,1393.9 1873.2,1396.3 1875.3,1398.9 1877.5,1401.6 1879.8,1404.1 1882.5,1406.3 1884.9,1407.8 1887.4,1409.2 1890.0,1410.4 1892.9,1411.6 1895.9,1412.6 1899.3,1413.5 1902.9,1414.3 1905.2,1414.7 1907.7,1415.1 1910.4,1415.5 1913.3,1415.9 1916.4,1416.2 1919.6,1416.5 1922.9,1416.7 1926.3,1417.0 1929.8,1417.2 1933.2,1417.3 1936.7,1417.4 1940.2,1417.5 1943.6,1417.6 1946.9,1417.6 1950.2,1417.5 1953.3,1417.5 1956.3,1417.4 1959.1,1417.2 1961.7,1417.0 1964.1,1416.8 1966.2,1416.5 1970.1,1415.8 1973.5,1415.0 1976.5,1414.0 1979.3,1412.7 1982.1,1410.9 1984.2,1409.2 1986.2,1407.2 1988.2,1405.0 1990.0,1402.5 1991.9,1400.0 1993.8,1397.5 1995.8,1395.1 1997.9,1392.8 2000.2,1390.4 2002.5,1387.7 2004.9,1385.0 2007.4,1382.3 2009.9,1379.9 2012.3,1377.9 2014.7,1376.4 2017.1,1375.8 2020.1,1376.2 2023.1,1377.7 2026.1,1379.8 2029.0,1382.3 2031.9,1384.8 2034.2,1386.9 2036.4,1389.3 2038.6,1391.8 2040.8,1394.4 2043.0,1397.0 2045.3,1399.5 2047.7,1401.8 2050.1,1403.9 2052.4,1405.9 2054.8,1407.8 2057.3,1409.7 2059.9,1411.4 2062.7,1412.9 2065.8,1414.3 2068.3,1415.2 2070.8,1416.0 2073.5,1416.6 2076.3,1417.2 2079.2,1417.6 2082.2,1418.0 2085.3,1418.4 2088.4,1418.7 2091.7,1419.0 2095.0,1419.3 2098.5,1419.6 2102.0,1419.9 2104.6,1420.1 2107.2,1420.3 2110.0,1420.5 2112.8,1420.7 2115.7,1420.9 2118.6,1421.0 2121.6,1421.2 2124.7,1421.3 2127.7,1421.4 2130.9,1421.5 2134.1,1421.6 2137.3,1421.7 2140.5,1421.8 2143.7,1421.8 2147.0,1421.9 2150.2,1422.0 2153.5,1422.1 2156.7,1422.1 2160.0,1422.2 2163.2,1422.3 2166.4,1422.4 2169.6,1422.5 2172.7,1422.6 2175.8,1422.7"/>
<polyline stroke="#ff8000" stroke-width="11.3" points="196.3,1706.2 199.3,1706.3 202.3,1706.5 205.2,1706.7 208.1,1706.8 211.1,1707.0 214.0,1707.1 216.9,1707.3 219.9,1707.5 222.9,1707.6 225.8,1707.8 228.9,1707.9 231.9,1708.0 235.0,1708.1 238.2,1708.2 241.4,1708.3 244.3,1708.4 247.3,1708.4 250.3,1708.5 253.5,1708.5 256.6,1708.5 259.9,1708.6 263.1,1708.6 266.4,1708.6 269.7,1708.6 273.0,1708.6 276.2,1708.6 279.5,1708.6 282.7,1708.6 285.8,1708.5 288.9,1708.5 292.0,1708.4 294.9,1708.3 297.7,1708.2 300.5,1708.1 303.1,1707.9 306.7,1707.7 310.2,1707.4 313.6,1707.1 316.9,1706.8 320.1,1706.4 323.2,1706.1 326.1,1705.6 328.9,1705.2 331.5,1704.7 334.0,1704.2 337.6,1703.3 340.8,1702.4 343.7,1701.3 346.3,1700.0 349.1,1698.3 351.7,1696.3 353.5,1693.9 354.5,1683.6 357.6,1679.5 357.6,1665.1 360.7,1658.9 360.7,1638.4 363.8,1631.2 363.8,1603.4 366.9,1596.2 366.9,1570.5 370.0,1564.3 371.0,1553.0 375.1,1553.0 376.1,1564.3 379.2,1570.5 379.2,1595.2 382.3,1600.3 382.3,1624.0 385.4,1630.1 385.4,1652.7 388.5,1657.9 388.5,1673.3 392.6,1677.4 392.6,1687.7 395.7,1691.8 395.7,1695.9 397.9,1698.1 401.5,1700.3 405.9,1702.1 408.2,1702.8 410.8,1703.4 413.5,1703.9 416.5,1704.3 419.6,1704.7 422.8,1705.0 426.2,1705.3 429.6,1705.6 433.2,1705.9 436.8,1706.2 439.4,1706.4 442.1,1706.6 444.8,1706.8 447.6,1707.0 450.5,1707.2 453.5,1707.4 456.5,1707.6 459.5,1707.7 462.6,1707.9 465.8,1708.0 469.0,1708.2 472.2,1708.3 475.4,1708.4 478.7,1708.6 482.0,1708.7 485.3,1708.8 488.6,1708.9 491.9,1709.1 495.2,1709.2 498.5,1709.3 501.3,1709.4 504.1,1709.5 506.9,1709.6 509.8,1709.7 512.6,1709.8 515.4,1709.9 518.3,1710.0 521.1,1710.1 524.0,1710.2 526.9,1710.2 529.8,1710.3 532.8,1710.4 535.7,1710.5 538.7,1710.5 541.7,1710.6 544.7,1710.7 547.7,1710.7 550.8,1710.8 553.9,1710.9 557.1,1710.9 560.2,1711.0 563.4,1711.0 566.7,1711.1 569.9,1711.1 573.2,1711.1 576.6,1711.2 580.0,1711.2 582.7,1711.2 585.4,1711.2 588.2,1711.3 591.2,1711.3 594.1,1711.3 597.2,1711.4 600.3,1711.4 603.5,1711.4 606.7,1711.4 610.0,1711.5 613.3,1711.5 616.6,1711.5 620.0,1711.5 623.4,1711.6 626.9,1711.6 630.3,1711.6 633.8,1711.6 637.3,1711.6 640.8,1711.7 644.3,1711.7 647.7,1711.7 651.2,1711.7 654.7,1711.7 658.1,1711.7 661.5,1711.7 664.9,1711.7 668.2,1711.7 671.5,1711.6 674.8,1711.6 678.0,1711.6 681.2,1711.5 684.3,1711.5 687.3,1711.5 690.3,1711.4 693.2,1711.3 696.0,1711.3 698.7,1711.2 701.4,1711.1 703.9,1711.0 706.4,1710.9 708.7,1710.8 711.0,1710.7 713.1,1710.6 715.1,1710.5 717.0,1710.3 718.8,1710.2 722.9,1709.8 726.4,1709.5 729.5,1709.1 732.3,1708.7 735.0,1708.1 737.6,1707.4 740.4,1706.5 743.2,1705.3 746.0,1704.0 748.7,1702.5 751.3,1700.8 753.9,1699.1 756.4,1697.4 758.9,1695.7 761.6,1693.7 764.2,1691.5 766.8,1689.3 769.3,1687.2 771.8,1685.2 774.3,1683.4 777.4,1681.3 780.5,1679.4 783.6,1677.9 786.7,1677.2 789.8,1677.5 792.9,1678.5 796.0,1680.1 799.0,1681.8 801.5,1683.6 804.0,1685.7 806.4,1688.0 808.8,1690.3 811.4,1692.6 813.8,1694.7 816.2,1697.0 818.6,1699.3 821.1,1701.4 823.9,1703.4 826.8,1705.0 829.6,1706.2 832.7,1707.3 836.1,1708.3 839.5,1709.1 842.9,1709.7 846.1,1710.0 849.0,1710.0 851.5,1709.6 855.0,1707.7 857.8,1704.9 860.7,1701.9 863.4,1699.1 866.1,1695.8 868.8,1693.1 871.5,1692.0 873.9,1692.9 876.3,1695.0 878.6,1697.8 880.8,1700.4 882.6,1703.1 884.1,1706.2 885.9,1709.0 888.5,1711.2 890.6,1712.0 893.1,1712.6 895.9,1712.8 899.0,1712.8 902.2,1712.7 905.6,1712.5 909.0,1712.3 912.5,1712.0 915.9,1711.8 919.3,1711.8 922.2,1711.8 925.2,1711.9 928.2,1711.9 931.3,1711.9 934.4,1711.9 937.5,1711.9 940.6,1711.9 943.8,1711.9 947.0,1711.9 950.2,1711.9 953.5,1711.9 956.7,1711.9 960.0,1711.9 963.0,1711.9 966.0,1711.9 969.1,1711.9 972.3,1711.9 975.5,1711.9 978.6,1711.9 981.9,1711.9 985.1,1711.9 988.3,1711.9 991.5,1711.9 994.7,1711.9 997.8,1711.9 1000.9,1711.9 1004.0,1711.9 1007.0,1711.9 1010.0,1711.9 1013.5,1711.9 1017.1,1712.0 1020.7,1712.2 1024.4,1712.4 1028.0,1712.5 1031.5,1712.7 1034.9,1712.8 1038.2,1712.8 1041.3,1712.8 1044.1,1712.6 1046.7,1712.3 1048.9,1711.8 1052.5,1710.3 1055.2,1708.5 1058.1,1706.5 1061.0,1704.4 1064.1,1701.9 1067.2,1699.8 1070.5,1698.8 1073.4,1699.3 1076.5,1700.9 1079.6,1702.9 1082.8,1704.7 1085.9,1705.6 1089.1,1705.7 1092.4,1705.3 1095.7,1704.5 1098.7,1703.4 1101.3,1701.9 1103.8,1699.6 1105.9,1696.6 1107.6,1693.3 1109.0,1689.6 1109.7,1686.9 1110.3,1684.0 1110.6,1680.8 1110.9,1677.5 1111.1,1674.1 1111.3,1670.9 1111.6,1667.8 1112.1,1664.9 1112.9,1661.5 1113.7,1658.2 1114.7,1655.1 1115.7,1652.2 1116.7,1649.5 1118.2,1645.8 1119.7,1642.3 1121.4,1640.8 1123.4,1642.3 1125.6,1645.8 1127.5,1649.5 1128.9,1652.3 1130.1,1655.4 1131.2,1658.5 1132.2,1661.8 1132.9,1664.8 1133.5,1667.9 1134.0,1671.1 1134.6,1674.2 1135.3,1677.2 1136.3,1680.4 1137.3,1683.5 1138.5,1686.6 1139.9,1689.6 1141.5,1692.8 1143.3,1696.0 1145.3,1699.1 1147.6,1701.9 1150.3,1704.4 1153.2,1706.7 1156.5,1708.7 1160.0,1710.2 1162.8,1710.9 1165.7,1711.3 1168.7,1711.3 1172.0,1711.3 1175.8,1711.2 1180.0,1711.2 1182.1,1711.2 1184.3,1711.3 1186.8,1711.3 1189.5,1711.3 1192.3,1711.4 1195.3,1711.4 1198.5,1711.4 1201.7,1711.5 1205.1,1711.5 1208.5,1711.5 1212.1,1711.5 1215.6,1711.5 1219.3,1711.5 1222.9,1711.5 1226.6,1711.5 1230.2,1711.5 1233.9,1711.4 1237.5,1711.4 1241.0,1711.3 1244.5,1711.2 1247.9,1711.1 1251.1,1711.0 1254.3,1710.9 1257.3,1710.8 1260.2,1710.6 1262.9,1710.4 1265.5,1710.2 1267.8,1710.0 1269.9,1709.8 1271.8,1709.5 1275.8,1708.8 1279.2,1708.2 1282.1,1707.4 1284.7,1706.3 1287.2,1704.9 1289.9,1702.7 1292.2,1700.0 1294.3,1697.1 1296.5,1694.1 1298.4,1691.4 1300.3,1688.5 1302.1,1685.6 1303.9,1682.8 1305.7,1680.2 1308.2,1676.7 1310.7,1673.4 1313.4,1671.0 1317.4,1669.4 1321.2,1669.4 1323.4,1671.2 1325.3,1674.1 1327.3,1677.1 1329.1,1680.1 1331.0,1683.6 1333.0,1686.5 1335.0,1687.9 1337.6,1687.0 1340.2,1684.5 1342.7,1681.7 1344.8,1678.6 1346.7,1675.2 1348.9,1672.5 1352.7,1670.1 1356.6,1669.4 1359.4,1670.9 1362.0,1673.8 1364.3,1677.1 1365.7,1680.2 1366.7,1683.8 1367.7,1687.5 1369.0,1691.0 1370.6,1694.3 1372.2,1697.7 1374.2,1700.8 1376.7,1703.3 1379.1,1704.9 1381.8,1706.1 1384.8,1707.1 1388.2,1707.8 1392.1,1708.6 1394.3,1709.0 1396.6,1709.3 1399.1,1709.6 1401.7,1709.8 1404.5,1710.1 1407.3,1710.2 1410.3,1710.4 1413.4,1710.5 1416.6,1710.6 1419.8,1710.7 1423.1,1710.7 1426.5,1710.8 1429.9,1710.9 1433.4,1710.9 1436.9,1710.9 1440.5,1711.0 1444.0,1711.0 1447.6,1711.1 1450.3,1711.2 1453.0,1711.2 1455.9,1711.3 1459.0,1711.3 1462.1,1711.4 1465.2,1711.5 1468.5,1711.6 1471.8,1711.6 1475.2,1711.7 1478.7,1711.8 1482.1,1711.8 1485.7,1711.9 1489.2,1711.9 1492.7,1712.0 1496.3,1712.0 1499.8,1712.1 1503.4,1712.1 1506.9,1712.1 1510.4,1712.1 1513.8,1712.1 1517.2,1712.1 1520.5,1712.1 1523.8,1712.1 1527.0,1712.0 1530.1,1711.9 1533.1,1711.8 1536.0,1711.7 1538.7,1711.6 1541.4,1711.5 1543.9,1711.3 1546.3,1711.1 1548.5,1710.9 1550.6,1710.7 1552.5,1710.4 1556.5,1709.7 1559.9,1709.1 1562.8,1708.3 1565.5,1707.4 1568.2,1706.3 1571.0,1704.9 1573.7,1703.3 1576.4,1701.4 1579.0,1699.4 1581.6,1697.2 1584.2,1695.0 1586.8,1692.9 1589.5,1691.0 1592.2,1689.1 1594.9,1687.0 1597.7,1684.9 1600.5,1683.0 1603.2,1681.5 1605.7,1680.5 1608.0,1680.2 1610.7,1681.1 1613.0,1682.9 1615.2,1685.4 1617.3,1687.9 1619.0,1690.4 1620.4,1693.4 1621.7,1696.5 1623.2,1699.4 1625.0,1701.8 1627.2,1704.0 1629.5,1705.7 1632.3,1707.3 1635.8,1708.6 1637.7,1709.1 1639.9,1709.6 1642.3,1710.0 1644.8,1710.3 1647.5,1710.6 1650.4,1710.9 1653.5,1711.1 1656.6,1711.2 1659.9,1711.3 1663.2,1711.4 1666.6,1711.5 1670.1,1711.5 1673.6,1711.5 1677.1,1711.6 1680.6,1711.6 1684.1,1711.6 1687.6,1711.6 1691.0,1711.6 1694.4,1711.7 1697.3,1711.8 1700.3,1711.8 1703.5,1711.9 1706.7,1711.9 1710.0,1712.0 1713.4,1712.0 1716.8,1712.0 1720.3,1712.1 1723.9,1712.1 1727.4,1712.1 1730.9,1712.1 1734.4,1712.1 1737.9,1712.1 1741.4,1712.1 1744.7,1712.0 1748.0,1712.0 1751.3,1711.9 1754.4,1711.9 1757.4,1711.8 1760.3,1711.6 1763.0,1711.5 1765.5,1711.3 1767.9,1711.2 1770.1,1711.0 1772.1,1710.7 1773.9,1710.5 1778.5,1709.6 1781.9,1708.6 1785.2,1707.1 1788.1,1705.3 1791.0,1703.1 1793.8,1700.9 1796.6,1699.2 1799.6,1697.9 1802.6,1697.1 1805.6,1696.9 1808.3,1697.5 1811.1,1698.7 1814.0,1700.1 1816.9,1701.4 1820.2,1702.8 1823.7,1704.3 1827.2,1705.5 1830.5,1706.0 1834.3,1705.5 1838.0,1704.2 1841.8,1702.6 1844.7,1701.2 1847.7,1699.5 1850.7,1697.8 1853.7,1696.4 1856.5,1695.8 1860.0,1696.2 1863.3,1697.5 1866.7,1699.2 1869.3,1700.8 1871.9,1702.7 1874.6,1704.7 1877.3,1706.7 1880.3,1708.2 1883.0,1709.2 1885.6,1709.9 1888.3,1710.4 1891.3,1710.9 1894.6,1711.2 1898.4,1711.6 1900.6,1711.8 1903.0,1712.0 1905.7,1712.1 1908.6,1712.3 1911.7,1712.4 1915.0,1712.5 1918.4,1712.6 1921.9,1712.7 1925.5,1712.8 1929.2,1712.9 1932.9,1712.9 1936.6,1712.9 1940.4,1712.9 1944.0,1712.9 1947.6,1712.9 1951.1,1712.8 1954.5,1712.8 1957.8,1712.7 1960.9,1712.6 1963.8,1712.4 1966.5,1712.2 1968.9,1712.1 1971.1,1711.8 1973.0,1711.6 1977.5,1710.7 1980.8,1709.7 1984.3,1708.2 1986.8,1707.0 1989.5,1705.4 1992.2,1703.8 1994.9,1702.1 1997.6,1700.5 2000.2,1699.2 2003.6,1697.7 2007.0,1696.3 2010.4,1695.3 2013.8,1694.7 2017.1,1694.7 2020.4,1695.1 2023.8,1695.9 2027.3,1696.9 2030.2,1697.9 2033.1,1699.2 2036.1,1700.7 2039.1,1702.1 2042.2,1703.6 2045.4,1704.8 2048.4,1705.8 2051.5,1706.7 2054.7,1707.6 2057.9,1708.5 2061.2,1709.2 2064.6,1709.9 2068.1,1710.5 2070.9,1710.9 2073.7,1711.2 2076.5,1711.5 2079.4,1711.8 2082.3,1712.0 2085.3,1712.2 2088.4,1712.3 2091.6,1712.4 2094.9,1712.6 2098.4,1712.7 2102.0,1712.8 2104.5,1712.9 2107.1,1712.9 2109.8,1713.0 2112.6,1713.0 2115.5,1713.1 2118.4,1713.1 2121.4,1713.1 2124.4,1713.1 2127.5,1713.1 2130.6,1713.1 2133.8,1713.1 2137.0,1713.1 2140.2,1713.0 2143.4,1713.0 2146.7,1713.0 2150.0,1712.9 2153.2,1712.9 2156.5,1712.9 2159.7,1712.9 2162.9,1712.8 2166.1,1712.8 2169.3,1712.8 2172.4,1712.8 2175.5,1712.8"/>
</g>
<text x="1886.1" y="601.9" font-family="Liberation Serif, serif" font-weight="normal" font-size="78" textLength="260.2" lengthAdjust="spacingAndGlyphs">Anatase</text>
<text x="2004.7" y="1058.7" font-family="Liberation Serif, serif" font-weight="normal" font-size="78" textLength="124.7" lengthAdjust="spacingAndGlyphs">TiO</text>
<text x="2127.5" y="1083.4" font-family="Liberation Serif, serif" font-weight="normal" font-size="44" textLength="23.0" lengthAdjust="spacingAndGlyphs">2</text>
<text x="1037.7" y="1527.0" font-family="Liberation Serif, serif" font-weight="normal" font-size="78" textLength="271.9" lengthAdjust="spacingAndGlyphs">0.25wt%</text>
<text x="1328.8" y="1527.2" font-family="Liberation Serif, serif" font-weight="normal" font-size="78" textLength="236.3" lengthAdjust="spacingAndGlyphs">Pd-TiO</text>
<text x="1564.7" y="1551.9" font-family="Liberation Serif, serif" font-weight="normal" font-size="44" textLength="22.9" lengthAdjust="spacingAndGlyphs">2</text>
<text x="1603.4" y="1527.0" font-family="Liberation Serif, serif" font-weight="normal" font-size="78" textLength="207.6" lengthAdjust="spacingAndGlyphs">Before</text>
<text x="1826.9" y="1527.0" font-family="Liberation Serif, serif" font-weight="normal" font-size="78" textLength="331.1" lengthAdjust="spacingAndGlyphs">Reduction</text>
<text x="1062.0" y="1813.0" font-family="Liberation Serif, serif" font-weight="normal" font-size="78" textLength="272.0" lengthAdjust="spacingAndGlyphs">0.25wt%</text>
<text x="1352.7" y="1812.5" font-family="Liberation Serif, serif" font-weight="normal" font-size="78" textLength="236.4" lengthAdjust="spacingAndGlyphs">Pd-TiO</text>
<text x="1588.1" y="1838.8" font-family="Liberation Serif, serif" font-weight="normal" font-size="44" textLength="22.3" lengthAdjust="spacingAndGlyphs">2</text>
<text x="1629.0" y="1813.0" font-family="Liberation Serif, serif" font-weight="normal" font-size="78" textLength="165.3" lengthAdjust="spacingAndGlyphs">After</text>
<text x="1811.9" y="1813.0" font-family="Liberation Serif, serif" font-weight="normal" font-size="78" textLength="331.6" lengthAdjust="spacingAndGlyphs">Reduction</text>
<text clip-path="url(#cx)" x="867.1" y="2156.3" font-family="Liberation Serif, serif" font-weight="normal" font-size="95" textLength="642.6" lengthAdjust="spacingAndGlyphs">2 theta (degree)</text>
<text x="605.2" y="1359.8" font-family="Liberation Serif, serif" font-weight="bold" font-size="85" textLength="167.8" lengthAdjust="spacingAndGlyphs">PdO</text>
<text x="836.6" y="1676.6" font-family="Liberation Serif, serif" font-weight="bold" font-size="85" textLength="133.0" lengthAdjust="spacingAndGlyphs">Pd°</text>
<text x="983.1" y="1684.9" font-family="Liberation Serif, serif" font-weight="bold" font-size="85" textLength="133.0" lengthAdjust="spacingAndGlyphs">Pd°</text>
<text x="1294.9" y="1292.3" font-family="Liberation Serif, serif" font-weight="normal" font-size="54" textLength="72.5" lengthAdjust="spacingAndGlyphs">AA</text>
<text transform="translate(98.5,1309.9) rotate(-90)" x="-3.1" y="0" font-family="Liberation Serif, serif" font-size="98" textLength="577.0" lengthAdjust="spacingAndGlyphs">Intensity (a.u)</text>
<text class="a" x="353.5" y="607">A</text>
<text class="a" x="771.5" y="857.6">A</text>
<text class="a" x="1312.5" y="851.4">A</text>
<text class="a" x="1586.5" y="879.2">A</text>
<text class="a" x="1790.5" y="918.5">A</text>
<text class="a" x="1846.5" y="902.9">A</text>
<text class="a" x="2003.5" y="892.6">A</text>
<text class="a" x="351.5" y="1023.7">A</text>
<text class="a" x="771.5" y="1321.3">A</text>
<text class="a" x="1100.5" y="1238.6">A</text>
<text class="a" x="1584.5" y="1320.3">A</text>
<text class="a" x="1789.5" y="1363.3">A</text>
<text class="a" x="1838.5" y="1380.8">A</text>
<text class="a" x="1996.5" y="1355.7">A</text>
<text class="a" x="348.5" y="1525.2">A</text>
<text class="a" x="760.5" y="1664">A</text>
<text class="a" x="1105.5" y="1623.9">A</text>
<text class="a" x="1304.5" y="1667.9">A</text>
<text class="a" x="1343.0" y="1657.1">A</text>
<text class="a" x="1590.1" y="1662.6">A</text>
<text class="a" x="1802.5" y="1685.6">A</text>
<text class="a" x="1844.5" y="1682.2">A</text>
<text class="a" x="1996.5" y="1682.2">A</text>
<text class="t" x="143.9" y="2030" textLength="103.6" lengthAdjust="spacingAndGlyphs">20</text>
<text class="t" x="474.2" y="2030" textLength="103.6" lengthAdjust="spacingAndGlyphs">30</text>
<text class="t" x="804.5" y="2030" textLength="103.6" lengthAdjust="spacingAndGlyphs">40</text>
<text class="t" x="1133.8" y="2030" textLength="103.6" lengthAdjust="spacingAndGlyphs">50</text>
<text class="t" x="1463.1" y="2030" textLength="103.6" lengthAdjust="spacingAndGlyphs">60</text>
<text class="t" x="1792.9" y="2030" textLength="103.6" lengthAdjust="spacingAndGlyphs">70</text>
<text class="t" x="2122.7" y="2030" textLength="103.6" lengthAdjust="spacingAndGlyphs">80</text>
<line x1="1672" y1="573.2" x2="1867" y2="573.2" stroke="#8000ff" stroke-width="8"/>
<line x1="1792" y1="1029.5" x2="1987" y2="1029.5" stroke="#ff00ff" stroke-width="8"/>
<line x1="825.4" y1="1498.6" x2="1020" y2="1498.6" stroke="#008000" stroke-width="11.1"/>
<line x1="848.7" y1="1784.9" x2="1043.9" y2="1784.9" stroke="#ff8000" stroke-width="11.6"/>
</svg></body></html>
